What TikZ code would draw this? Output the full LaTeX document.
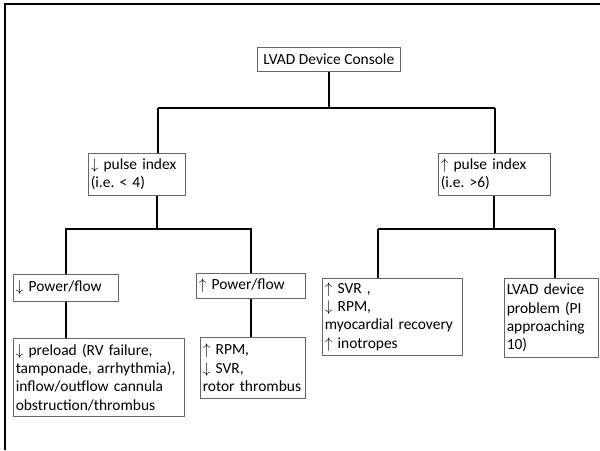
\documentclass[tikz,border=0pt]{standalone}
\usepackage{fontspec}
\setmainfont{Carlito}
\usepackage{tikz}
\usetikzlibrary{positioning}
\frenchspacing

\tikzset{
  box/.style={draw=black!60, line width=0.5pt, inner xsep=0.06cm, inner ysep=0pt,
    align=left, anchor=north west},
  conn/.style={draw=black, line width=1.4pt}
}

\begin{document}
\begin{tikzpicture}[x=0.025cm,y=-0.025cm,every node/.style={font=\fontsize{11}{13}\selectfont}]
    \useasboundingbox (0,0) rectangle (600,450);
    % frame
    \draw[line width=2pt] (5,450) -- (5,4) -- (600,4);

    \node[box, align=center, minimum width=3.575cm, minimum height=0.6cm] (con) at (257,47) {LVAD Device Console};

    \node[box, text width=2.305cm, minimum height=1.05cm] (lpi) at (88,153) {$\downarrow$ pulse index\\(i.e. < 4)};
    \node[box, text width=2.68cm, minimum height=1.05cm] (rpi) at (438,153) {$\uparrow$ pulse index\\(i.e. >6)};

    \node[box, text width=2.505cm, minimum height=0.675cm] (ldn) at (13,274) {$\downarrow$ Power/flow};
    \node[box, text width=2.605cm, minimum height=0.625cm] (lup) at (196,273) {$\uparrow$ Power/flow};
    \node[box, text width=3.38cm, minimum height=1.925cm] (svr) at (322,278) {$\uparrow$ SVR ,\\$\downarrow$ RPM,\\myocardial recovery\\$\uparrow$ inotropes};
    \node[box, text width=2.23cm, minimum height=1.975cm] (dev) at (504,278) {LVAD device\\problem (PI\\approaching\\10)};

    \node[box, text width=4.155cm, minimum height=1.95cm] (pre) at (13,338) {$\downarrow$ preload (RV failure,\\tamponade, arrhythmia),\\inflow/outflow cannula\\obstruction/thrombus};
    \node[box, text width=2.505cm, minimum height=1.525cm] (rpm) at (200,337) {$\uparrow$ RPM,\\$\downarrow$ SVR,\\rotor thrombus};

    % bus lines
    \coordinate (d1) at (158,108);
    \coordinate (d2) at (495,108);
    \coordinate (d3) at (157,229);
    \coordinate (d4) at (378,229);
    \coordinate (d5) at (555,229);

    \draw[conn] (con.south) -- (con.south |- d1);
    \draw[conn] (d1) -- (d2);
    \draw[conn] (d1) -- (d1 |- lpi.north);
    \draw[conn] (d2) -- (d2 |- rpi.north);

    \draw[conn] (d3 |- lpi.south) -- (d3);
    \draw[conn] (ldn.north) -- (ldn.north |- d3) -- (lup.north |- d3) -- (lup.north);
    \draw[conn] (ldn.south) -- (ldn.south |- pre.north);
    \draw[conn] (lup.south) -- (lup.south |- rpm.north);

    \draw[conn] (rpi.south) -- (rpi.south |- d4);
    \draw[conn] (d4) -- (d5);
    \draw[conn] (d4) -- (d4 |- svr.north);
    \draw[conn] (d5) -- (d5 |- dev.north);
\end{tikzpicture}
\end{document}
